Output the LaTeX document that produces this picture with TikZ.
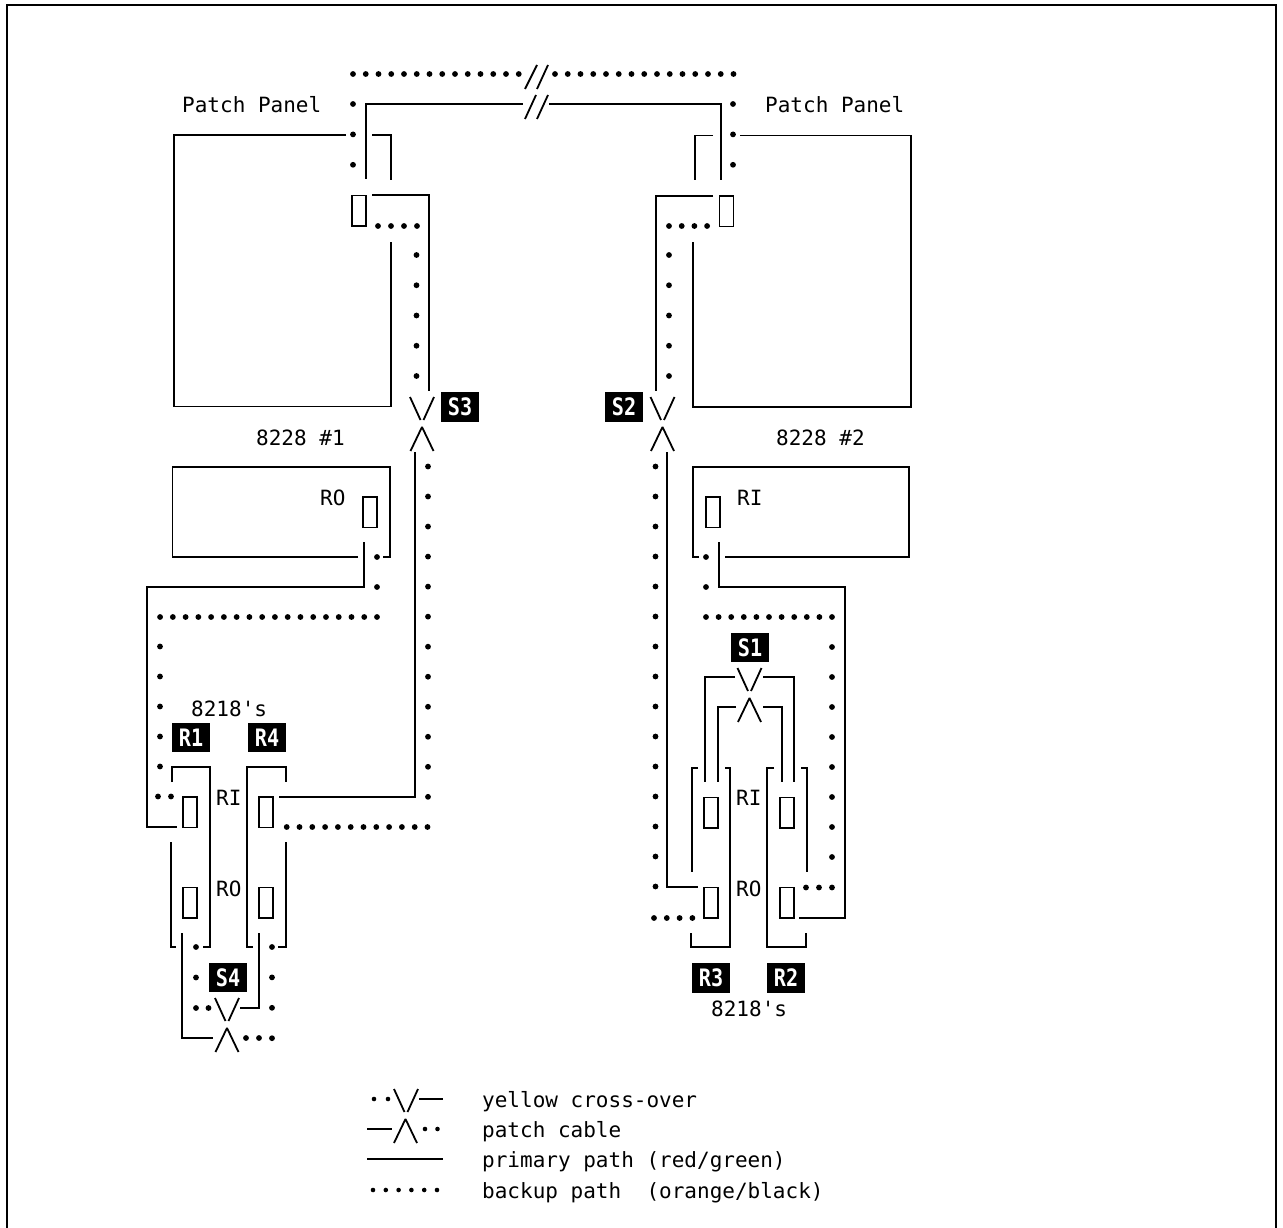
\documentclass[tikz,border=0pt]{standalone}
\usepackage{fontspec}
\newfontfamily\typewr{DejaVu Sans Mono}
\newfontfamily\tagfnt{DejaVu Sans Mono}
\newcommand{\tagtxt}[1]{\scalebox{0.84}[1]{#1}}
\tikzset{
  cable/.style={line width=1.8pt,line cap=butt,line join=miter},
  portbox/.style={draw,line width=1.5pt,inner sep=0pt,minimum width=14pt,minimum height=30.5pt},
  tagbox/.style={fill=black,text=white,inner sep=0pt,minimum width=38pt,minimum height=29.5pt,font=\tagfnt\bfseries\fontsize{24pt}{24pt}\selectfont},
  lab/.style={anchor=base west,inner sep=0pt,font=\typewr\fontsize{21pt}{21pt}\selectfont},
}
\newcommand{\bkp}[6][2.9]{\foreach \i in {0,...,#6}{\fill ({#2+\i*#4},{#3+\i*#5}) circle (#1pt);}}
\newcommand{\xvee}[2]{\draw[cable] (#1-12,#2)--(#1-1.5,#2+23) (#1+12,#2)--(#1+1.5,#2+23);}
\newcommand{\xwedge}[2]{\draw[cable,line join=bevel] (#1-11.5,#2+24)--(#1,#2)--(#1+11.5,#2+24);}
\begin{document}
\begin{tikzpicture}[x=1pt,y=-1pt]
\useasboundingbox (0,0) rectangle (1283,1228);
% frame
\draw[cable] (7,1228)--(7,5)--(1276,5)--(1276,1228);

% ---- top link
\bkp{353}{74}{12.75}{0}{13}
\bkp{555}{74}{12.75}{0}{14}
\draw[cable] (525,89)--(537,65) (537,89)--(548,65);
\draw[cable] (525,119)--(536,95) (537,119)--(548,95);
\draw[cable] (366,179)--(366,104)--(523,104);
\draw[cable] (549,104)--(721,104)--(721,180);
\bkp{353}{104}{0}{30.4}{2}
\bkp{733}{104}{0}{30.4}{2}

% ---- labels upper
\node[lab] (ppl) at (182,113) {Patch Panel};
\node[lab] (ppr) at (765,113) {Patch Panel};
\node[lab] (m1) at (256,445) {8228 \#1};
\node[lab] (m2) at (776,445) {8228 \#2};

% ---- 8228 #1 patch panel
\draw[cable] (346,135)--(174,135)--(174,406.5)--(391,406.5)--(391,242);
\draw[cable] (372,135)--(391,135)--(391,180);
\node[portbox] (pl) at (359,210.5) {};
\draw[cable] (372,195)--(429,195)--(429,391);
\bkp{378}{226}{13}{0}{3}
\bkp{416.5}{255}{0}{30.25}{4}
\xvee{422}{397}
\xwedge{422}{427}
\node[tagbox] (s3) at (460,407) {\tagtxt{S3}};

% ---- 8228 #2 patch panel
\draw[cable] (740,135.5)--(911,135.5)--(911,407)--(693,407)--(693,242);
\draw[cable] (713,135.5)--(695,135.5)--(695,180);
\node[portbox] (pr) at (726.5,211) {};
\draw[cable] (713,196)--(656,196)--(656,391);
\bkp{669}{226}{12.7}{0}{3}
\bkp{669}{255}{0}{30.25}{4}
\xvee{662.5}{397}
\xwedge{662.5}{427}
\node[tagbox] (s2) at (624,407) {\tagtxt{S2}};

% ---- 8228 #1 lower box
\draw[cable] (358,557)--(172.5,557)--(172.5,467)--(390,467)--(390,557)--(383,557);
\node[portbox] (r0a) at (370,512) {};
\node[lab] (t1) at (320,505) {RO};
\draw[cable] (364,542)--(364,587)--(147,587)--(147,827)--(177,827);
\bkp{377}{557}{0}{30}{1}
\bkp{377}{617}{-12.76}{0}{17}
\bkp{160}{646.5}{0}{30}{4}
\bkp{158}{796.5}{13}{0}{1}

% ---- long line S3 to R4
\draw[cable] (415,452)--(415,797)--(279,797);
\bkp{428}{466.5}{0}{30.03}{11}
\bkp{427.5}{827}{-12.8}{0}{11}

% ---- 8218 R1/R4
\node[lab] (m3) at (191,716) {8218's};
\node[tagbox] (r1) at (191,737.5) {\tagtxt{R1}};
\node[tagbox] (r4) at (267,737.5) {\tagtxt{R4}};
\draw[cable] (172,782)--(172,767)--(210,767)--(210,947)--(203,947);
\draw[cable] (171,842)--(171,947)--(176,947);
\draw[cable] (253,947)--(247,947)--(247,767)--(286,767)--(286,782);
\draw[cable] (286,842)--(286,947)--(278,947);
\node[portbox] (a1) at (190,812) {};
\node[portbox] (a2) at (190,902.5) {};
\node[portbox] (b1) at (266,812) {};
\node[portbox] (b2) at (266,902.5) {};
\node[lab] (t2) at (216,805) {RI};
\node[lab] (t3) at (216,896) {RO};

% ---- S4 crossover
\node[tagbox] (s4) at (228,977.5) {\tagtxt{S4}};
\draw[cable] (182,933)--(182,1038)--(213,1038);
\draw[cable] (259,933)--(259,1008)--(240,1008);
\xvee{227}{998}
\xwedge{227}{1028}
\bkp{196}{947}{0}{30.5}{2}
\bkp{208.5}{1008}{0}{0}{0}
\bkp{272}{947}{0}{30.4}{3}
\bkp{246}{1038}{13}{0}{1}

% ---- 8228 #2 lower box
\draw[cable] (725,557)--(909,557)--(909,467)--(693,467)--(693,557)--(699,557);
\node[portbox] (ri) at (713,512) {};
\node[lab] (t4) at (737,505) {RI};
\draw[cable] (719,542)--(719,587)--(845,587)--(845,918)--(799,918);
\bkp{706}{557}{0}{30}{1}
\bkp{706}{617}{12.6}{0}{10}
\bkp{832}{647}{0}{30}{7}
\bkp{806}{887.5}{13}{0}{2}

% ---- long line S2 to R3
\draw[cable] (667,452)--(667,887)--(698,887);
\bkp{655.5}{466.5}{0}{30}{14}
\bkp{654}{918}{12.8}{0}{3}

% ---- S1 crossover
\node[tagbox] (s1) at (750,647.5) {\tagtxt{S1}};
\xvee{749.5}{668}
\xwedge{749.5}{698}
\draw[cable] (735,677)--(705,677)--(705,782);
\draw[cable] (763,677)--(794,677)--(794,782);
\draw[cable] (736,707)--(718,707)--(718,782);
\draw[cable] (763,707)--(782,707)--(782,782);

% ---- 8218 R3/R2
\draw[cable] (698,768)--(692,768)--(692,872);
\draw[cable] (725,768)--(730,768)--(730,947)--(691,947)--(691,933);
\draw[cable] (774,768)--(767,768)--(767,947)--(806,947)--(806,933);
\draw[cable] (801,768)--(807,768)--(807,872);
\node[portbox] (c1) at (711,812.5) {};
\node[portbox] (c2) at (711,902.5) {};
\node[portbox] (d1) at (787,812.5) {};
\node[portbox] (d2) at (787,902.5) {};
\node[lab] (t5) at (736,805) {RI};
\node[lab] (t6) at (736,896) {RO};
\node[tagbox] (r3) at (711,978) {\tagtxt{R3}};
\node[tagbox] (r2) at (786,978) {\tagtxt{R2}};
\node[lab] (m4) at (711,1016) {8218's};

% ---- legend
\bkp[2.3]{374}{1099}{14}{0}{1}
\xvee{406}{1089}
\draw[cable] (419,1099)--(443,1099);
\draw[cable] (367,1129)--(392,1129);
\xwedge{405.5}{1119}
\bkp[2.3]{425}{1129}{12.5}{0}{1}
\draw[cable] (367,1159)--(443,1159);
\bkp[2.3]{373}{1190}{12.8}{0}{5}
\node[lab] (l1) at (482,1107) {yellow cross-over};
\node[lab] (l2) at (482,1137) {patch cable};
\node[lab] (l3) at (482,1167) {primary path (red/green)};
\node[lab] (l4) at (482,1198) {backup path\ \ (orange/black)};
\end{tikzpicture}
\end{document}
